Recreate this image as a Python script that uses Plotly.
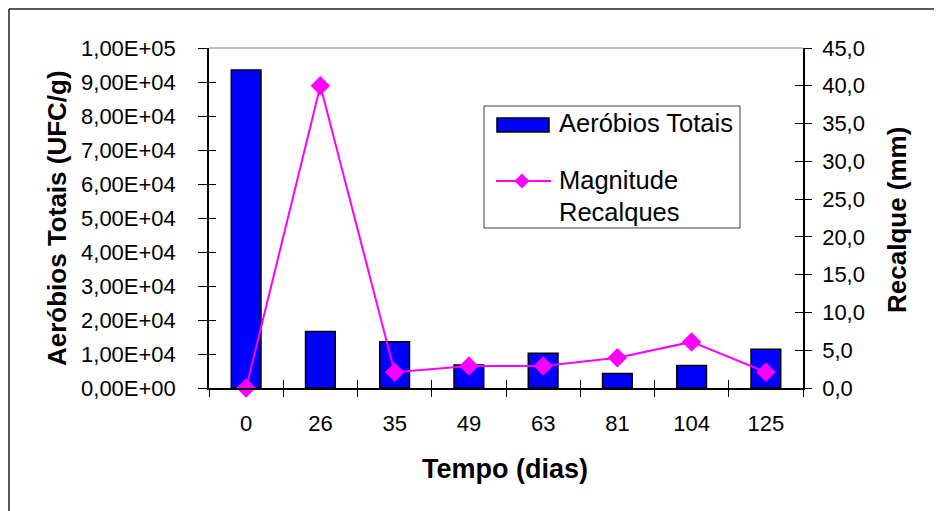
import plotly.graph_objects as go

# ---- data ----
tempo_dias = ["0", "26", "35", "49", "63", "81", "104", "125"]
aerobios_totais = [93500, 16600, 13600, 6800, 10200, 4300, 6600, 11400]
recalque_mm = [0.0, 40.0, 2.1, 2.9, 2.9, 4.0, 6.1, 2.1]

left_tickvals = [0, 10000, 20000, 30000, 40000, 50000, 60000, 70000, 80000, 90000, 100000]
left_ticktext = ["0,00E+00", "1,00E+04", "2,00E+04", "3,00E+04", "4,00E+04", "5,00E+04",
                 "6,00E+04", "7,00E+04", "8,00E+04", "9,00E+04", "1,00E+05"]
right_tickvals = [0, 5, 10, 15, 20, 25, 30, 35, 40, 45]
right_ticktext = ["0,0", "5,0", "10,0", "15,0", "20,0", "25,0", "30,0", "35,0", "40,0", "45,0"]

# ---- layout geometry (page pixels; page body has an 8px margin) ----
W, H = 942, 511
OFF = 8
L, R, T, B = 209 - OFF, 803 - OFF, 48 - OFF, 388 - OFF

def px(x):
    return (x - OFF - L) / (R - L)

def py(y):
    return (B - (y - OFF)) / (B - T)

FONT = "Liberation Sans, Arial, sans-serif"
BLUE = "#0000FF"
MAG = "#FF00FF"

fig = go.Figure()
# empty helper traces so the tick-only overlay axes get drawn (inner half of crossing ticks)
fig.add_trace(go.Scatter(x=[], y=[], xaxis="x3", yaxis="y3", showlegend=False, hoverinfo="skip"))
fig.add_trace(go.Scatter(x=[], y=[], xaxis="x3", yaxis="y4", showlegend=False, hoverinfo="skip"))
fig.add_trace(go.Bar(
    x=tempo_dias, y=aerobios_totais, name="Aeróbios Totais",
    marker=dict(color=BLUE, line=dict(color="black", width=1.5)),
    showlegend=False,
))
fig.add_trace(go.Scatter(
    x=tempo_dias, y=recalque_mm, yaxis="y2", name="Magnitude Recalques",
    mode="lines+markers",
    line=dict(color=MAG, width=2),
    marker=dict(symbol="diamond", size=15, color=MAG),
    cliponaxis=False, showlegend=False,
))

tickfont = dict(family=FONT, size=22, color="black")
boundaries = [i - 0.5 for i in range(len(tempo_dias) + 1)]

fig.update_layout(
    width=W, height=H,
    margin=dict(l=L, r=W - R, t=T, b=H - B, pad=0),
    paper_bgcolor="white", plot_bgcolor="white",
    bargap=0.6,
    showlegend=False,
    xaxis=dict(
        type="category", range=[-0.5, len(tempo_dias) - 0.5],
        tickson="boundaries", ticks="outside", ticklen=7, tickcolor="black", tickwidth=1,
        showline=True, linecolor="black", linewidth=1.5,
        showgrid=False, zeroline=False, tickfont=tickfont, ticklabelstandoff=15,
    ),
    yaxis=dict(
        range=[0, 100000], tickvals=left_tickvals, ticktext=left_ticktext,
        ticks="outside", ticklen=9, tickcolor="black", tickwidth=1,
        showline=True, linecolor="black", linewidth=1.5,
        showgrid=False, zeroline=False, tickfont=tickfont, ticklabelstandoff=18,
    ),
    yaxis2=dict(
        overlaying="y", side="right", range=[0, 45],
        tickvals=right_tickvals, ticktext=right_ticktext,
        ticks="outside", ticklen=7, tickcolor="black", tickwidth=1,
        showline=True, linecolor="black", linewidth=1.5,
        showgrid=False, zeroline=False, tickfont=tickfont, ticklabelstandoff=6,
    ),
    xaxis3=dict(
        overlaying="x", anchor="y3", range=[-0.5, len(tempo_dias) - 0.5],
        tickvals=boundaries, ticks="inside", ticklen=8, tickcolor="black", tickwidth=1,
        showticklabels=False, showgrid=False, zeroline=False, showline=False, fixedrange=True,
    ),
    yaxis3=dict(
        overlaying="y", anchor="x3", side="left", range=[0, 100000],
        tickvals=left_tickvals, ticks="inside", ticklen=7, tickcolor="black", tickwidth=1,
        showticklabels=False, showgrid=False, zeroline=False, showline=False, fixedrange=True,
    ),
    yaxis4=dict(
        overlaying="y", anchor="x3", side="right", range=[0, 45],
        tickvals=right_tickvals, ticks="inside", ticklen=8, tickcolor="black", tickwidth=1,
        showticklabels=False, showgrid=False, zeroline=False, showline=False, fixedrange=True,
    ),
)

shapes = []
# outer frame (left and top)
shapes.append(dict(type="line", xref="paper", yref="paper", x0=px(9), x1=px(9), y0=py(9), y1=py(H + OFF),
                   line=dict(color="#202020", width=1.5)))
shapes.append(dict(type="line", xref="paper", yref="paper", x0=px(9), x1=px(W + OFF), y0=py(9), y1=py(9),
                   line=dict(color="#202020", width=1.5)))
# top plot border (grey)
shapes.append(dict(type="line", xref="paper", yref="paper", x0=0, x1=1, y0=1, y1=1,
                   line=dict(color="#808080", width=1)))
# legend box
shapes.append(dict(type="rect", xref="paper", yref="paper", x0=px(484), x1=px(740), y0=py(228), y1=py(106),
                   line=dict(color="#404040", width=1), fillcolor="white", layer="above"))
shapes.append(dict(type="rect", xref="paper", yref="paper", x0=px(497), x1=px(549), y0=py(132), y1=py(118),
                   line=dict(color="black", width=1.5), fillcolor=BLUE, layer="above"))
shapes.append(dict(type="line", xref="paper", yref="paper", x0=px(496), x1=px(551), y0=py(181), y1=py(181),
                   line=dict(color=MAG, width=2), layer="above"))
cx, cy, d = 522, 181, 7.5
shapes.append(dict(type="path", xref="paper", yref="paper",
                   path=f"M {px(cx - d)},{py(cy)} L {px(cx)},{py(cy - d)} L {px(cx + d)},{py(cy)} L {px(cx)},{py(cy + d)} Z",
                   line=dict(color=MAG, width=0), fillcolor=MAG, layer="above"))
fig.update_layout(shapes=shapes)

legfont = dict(family=FONT, size=25.5, color="black")
titlefont = dict(family=FONT, size=26, color="black")
annotations = [
    dict(text="Aeróbios Totais", x=px(557), y=py(123), xref="paper", yref="paper",
         xanchor="left", yanchor="middle", showarrow=False, font=legfont),
    dict(text="Magnitude", x=px(557), y=py(180), xref="paper", yref="paper",
         xanchor="left", yanchor="middle", showarrow=False, font=legfont),
    dict(text="Recalques", x=px(557), y=py(212), xref="paper", yref="paper",
         xanchor="left", yanchor="middle", showarrow=False, font=legfont),
    dict(text="<b>Tempo (dias)</b>", x=px(505), y=py(469), xref="paper", yref="paper",
         xanchor="center", yanchor="middle", showarrow=False, font=dict(family=FONT, size=27, color="black")),
    dict(text="<b>Aeróbios Totais (UFC/g)</b>", x=px(57), y=py(218), xref="paper", yref="paper",
         xanchor="center", yanchor="middle", showarrow=False, font=titlefont, textangle=-90),
    dict(text="<b>Recalque (mm)</b>", x=px(897), y=py(220), xref="paper", yref="paper",
         xanchor="center", yanchor="middle", showarrow=False, font=titlefont, textangle=-90),
]
fig.update_layout(annotations=annotations)

fig.write_html("out.html")
